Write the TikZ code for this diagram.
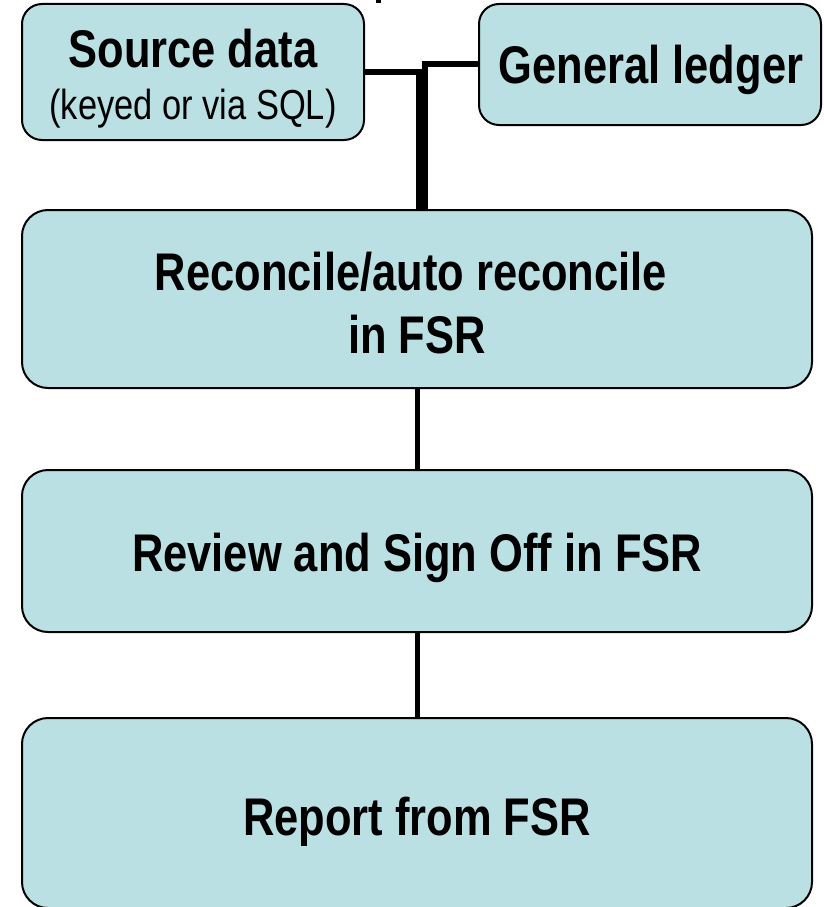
\documentclass[tikz,border=0pt]{standalone}
\usepackage{fontspec}
\setmainfont{Liberation Sans}[FakeStretch=0.82]
\usetikzlibrary{positioning}
\definecolor{boxfill}{RGB}{186,224,227}
\tikzset{
  stepbox/.style={draw=black, line width=2pt, fill=boxfill, rounded corners=26pt, inner sep=0pt},
  boxtext/.style={anchor=base, inner sep=0pt, font=\fontsize{53}{64}\selectfont\bfseries},
  subtext/.style={anchor=base, inner sep=0pt, font=\fontsize{42}{48}\selectfont},
  link/.style={line width=6pt},
  thinlink/.style={line width=5pt},
}

\begin{document}
\begin{tikzpicture}[x=1pt, y=-1pt]
		\useasboundingbox (0,0) rectangle (823,907);

		% boxes
		\node[stepbox, rounded corners=20pt, minimum width=342pt, minimum height=136pt] (src) at (193,72) {};
		\node[stepbox, rounded corners=20pt, minimum width=342pt, minimum height=121pt] (gl) at (650,64.5) {};
		\node[stepbox, minimum width=790pt, minimum height=178pt] (rec) at (417,299) {};
		\node[stepbox, minimum width=790pt, minimum height=162pt] (rev) at (417,551) {};
		\node[stepbox, minimum width=790pt, minimum height=190pt] (rep) at (417,813) {};

		% texts
		\node[boxtext] (srcTitle) at (193,67) {Source data};
		\node[subtext] (srcSub) at (193,119) {(keyed or via SQL)};
		\node[boxtext] (glTitle) at (651,83) {General ledger};
		\node[boxtext] (recTitle) at (411,290) {Reconcile/auto reconcile};
		\node[boxtext] (recSub) at (417,353) {in FSR};
		\node[boxtext] (revTitle) at (417,571) {Review and Sign Off in FSR};
		\node[boxtext] (repTitle) at (417,835) {Report from FSR};

		% connectors
		\coordinate (srcJoin) at (419,72);
		\coordinate (glJoin) at (425,64.5);
		\draw[link] (src.east) -- (srcJoin) -- (srcJoin |- rec.north);
		\draw[link] (gl.west) -- (glJoin) -- (glJoin |- rec.north);
		\draw[thinlink] (rec.south) -- (rev.north);
		\draw[thinlink] (rev.south) -- (rep.north);

		% cut-off mark at the top edge
		\fill (376,0) rectangle (381,3);
\end{tikzpicture}
\end{document}
